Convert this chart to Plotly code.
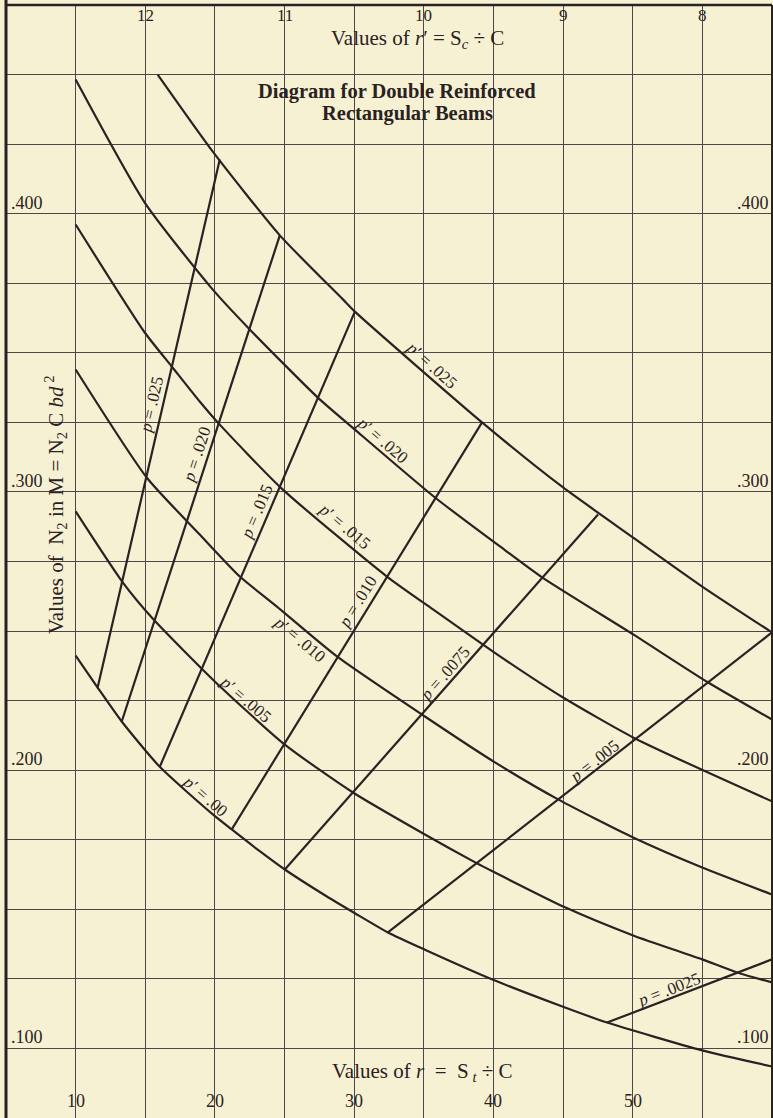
import plotly.graph_objects as go

# ---------------- data ----------------
# bottom axis: r = St / C ; top axis: r' = Sc / C ; vertical: N2
r_tick_vals = [10, 20, 30, 40, 50]
r_prime_labels = ["12", "11", "10", "9", "8"]
r_prime_at_r = [15, 25, 35, 45, 55]
n2_tick_vals = [0.100, 0.200, 0.300, 0.400]
n2_tick_text = [".100", ".200", ".300", ".400"]

# curves of constant p'
pp000_r = [10.0, 11.58, 13.31, 16.04, 19.85, 21.21, 23.22, 25.02, 28.04, 30.05, 32.42, 35.08, 40.11, 45.14, 48.16, 54.99, 60.0]
pp000_n = [0.2412, 0.2297, 0.2175, 0.2012, 0.1841, 0.1787, 0.1709, 0.1643, 0.1546, 0.1486, 0.1417, 0.1355, 0.1244, 0.1147, 0.1093, 0.0993, 0.0935]

pp005_r = [10.0, 13.38, 15.53, 19.99, 25.02, 29.91, 35.08, 38.82, 40.11, 45.14, 50.03, 54.99, 57.50, 60.0]
pp005_n = [0.2930, 0.2675, 0.2545, 0.2319, 0.2092, 0.1920, 0.1769, 0.1665, 0.1632, 0.1507, 0.1406, 0.1320, 0.1273, 0.1237]

pp010_r = [10.0, 15.10, 18.91, 21.79, 24.45, 28.76, 35.08, 40.11, 44.64, 50.03, 54.99, 60.0]
pp010_n = [0.3440, 0.3052, 0.2847, 0.2696, 0.2588, 0.2409, 0.2193, 0.2028, 0.1895, 0.1758, 0.1650, 0.1553]

pp015_r = [10.0, 14.96, 16.90, 18.91, 20.20, 24.80, 32.35, 35.66, 40.47, 45.00, 50.17, 60.0]
pp015_n = [0.3961, 0.3573, 0.3451, 0.3325, 0.3250, 0.3012, 0.2696, 0.2578, 0.2409, 0.2261, 0.2114, 0.1888]

pp020_r = [10.0, 14.96, 19.85, 22.50, 27.39, 30.05, 35.80, 40.47, 43.49, 50.03, 55.42, 60.0]
pp020_n = [0.4482, 0.4040, 0.3727, 0.3584, 0.3339, 0.3224, 0.2980, 0.2804, 0.2693, 0.2488, 0.2315, 0.2182]

pp025_r = [15.89, 19.85, 24.66, 29.19, 30.05, 39.18, 45.00, 50.03, 54.99, 60.0]
pp025_n = [0.4500, 0.4223, 0.3922, 0.3692, 0.3648, 0.3250, 0.3016, 0.2836, 0.2660, 0.2495]

pprime_labels = [".00", ".005", ".010", ".015", ".020", ".025"]

# lines of constant p (from p'=.00 curve up to p'=.025 curve / chart edge)
p_labels = [".025", ".020", ".015", ".010", ".0075", ".005", ".0025"]
p_bottom_r = [11.58, 13.31, 16.04, 21.21, 25.02, 32.42, 48.16]
p_bottom_n = [0.2297, 0.2175, 0.2012, 0.1787, 0.1643, 0.1417, 0.1093]
p_top_r = [20.35, 24.66, 30.05, 39.18, 47.51, 60.0, 60.0]
p_top_n = [0.4195, 0.3922, 0.3648, 0.3250, 0.2919, 0.2495, 0.1320]

# ---------------- styling / placement ----------------
W, H = 773, 1118
BG = "#f7f1d4"
INK = "#2a2222"
GRID = "#4f4747"
FONT = "Liberation Serif"

pprime_label_pos = [  # (r, N2, angle) for labels of p' curves
    (19.34, 0.1906, 41),
    (22.22, 0.2254, 41),
    (26.10, 0.2470, 40),
    (29.33, 0.2876, 40),
    (32.06, 0.3185, 41),
    (35.58, 0.3454, 42),
]
p_label_pos = [
    (15.46, 0.3314, -77),
    (18.70, 0.3135, -72),
    (23.01, 0.2930, -67),
    (30.27, 0.2606, -58),
    (36.52, 0.2348, -48.6),
    (47.23, 0.2031, -38),
    (52.62, 0.1212, -21),
]

fig = go.Figure()

curve_r = [pp000_r, pp005_r, pp010_r, pp015_r, pp020_r, pp025_r]
curve_n = [pp000_n, pp005_n, pp010_n, pp015_n, pp020_n, pp025_n]
for lab, xs, ys in zip(pprime_labels, curve_r, curve_n):
    fig.add_trace(go.Scatter(x=xs, y=ys, mode="lines", name="p' = " + lab,
                             line=dict(color=INK, width=2.2, shape="spline", smoothing=0.6),
                             hoverinfo="skip", showlegend=False))

for lab, x0, y0, x1, y1 in zip(p_labels, p_bottom_r, p_bottom_n, p_top_r, p_top_n):
    fig.add_trace(go.Scatter(x=[x0, x1], y=[y0, y1], mode="lines", name="p = " + lab,
                             line=dict(color=INK, width=2.2),
                             hoverinfo="skip", showlegend=False))

LBL = 17
ann = []
for lab, (x, y, a) in zip(pprime_labels, pprime_label_pos):
    ann.append(dict(x=x, y=y, xref="x", yref="y", text="<i>p</i>′ = " + lab,
                    textangle=a, showarrow=False, font=dict(family=FONT, size=LBL, color=INK)))
for lab, (x, y, a) in zip(p_labels, p_label_pos):
    ann.append(dict(x=x, y=y, xref="x", yref="y", text="<i>p</i> = " + lab,
                    textangle=a, showarrow=False, font=dict(family=FONT, size=LBL, color=INK)))

# tick labels (drawn inside the grid like the original)
TK = 18
for v in r_tick_vals:
    ann.append(dict(x=v, y=0.0810, xref="x", yref="y", text=str(v), showarrow=False,
                    font=dict(family=FONT, size=TK, color=INK)))
for lab, v in zip(r_prime_labels, r_prime_at_r):
    ann.append(dict(x=v, y=0.4712, xref="x", yref="y", text=lab, showarrow=False,
                    font=dict(family=FONT, size=17, color=INK)))
for v, t in zip(n2_tick_vals, n2_tick_text):
    ann.append(dict(x=5, y=v, xref="x", yref="y", text=t, showarrow=False,
                    xanchor="left", yanchor="bottom", xshift=3, yshift=-1,
                    font=dict(family=FONT, size=TK, color=INK)))
    ann.append(dict(x=60, y=v, xref="x", yref="y", text=t, showarrow=False,
                    xanchor="right", yanchor="bottom", xshift=-1, yshift=-1,
                    font=dict(family=FONT, size=TK, color=INK)))

# axis titles and diagram title
TT = 21
ann.append(dict(x=34.58, y=0.4629, xref="x", yref="y", showarrow=False,
                text="Values of <i>r</i>′ = S<sub><i>c</i></sub> ÷ C",
                font=dict(family=FONT, size=TT, color=INK)))
ann.append(dict(x=34.94, y=0.0914, xref="x", yref="y", showarrow=False,
                text="Values of <i>r</i>  =  S<sub> <i>t</i></sub> ÷ C",
                font=dict(family=FONT, size=TT, color=INK)))
ann.append(dict(x=8.56, y=0.2955, xref="x", yref="y", showarrow=False, textangle=-90,
                text="Values of  N<sub>2</sub> in M = N<sub>2</sub> C <i>bd</i><sup> 2</sup>",
                font=dict(family=FONT, size=TT, color=INK)))
ann.append(dict(x=33.07, y=0.4439, xref="x", yref="y", showarrow=False,
                text="<b>Diagram for Double Reinforced</b>",
                font=dict(family=FONT, size=20.5, color=INK)))
ann.append(dict(x=33.86, y=0.4360, xref="x", yref="y", showarrow=False,
                text="<b>Rectangular Beams</b>",
                font=dict(family=FONT, size=20.5, color=INK)))

shapes = [
    dict(type="line", xref="x domain", yref="y domain", x0=0, x1=0, y0=0, y1=1.005,
         line=dict(color=INK, width=3)),
    dict(type="line", xref="x domain", yref="y domain", x0=0, x1=1, y0=1, y1=1,
         line=dict(color=INK, width=2.5)),
    dict(type="line", xref="x domain", yref="y domain", x0=1, x1=1, y0=0, y1=1,
         line=dict(color=INK, width=2)),
]

fig.update_layout(
    width=W, height=H,
    margin=dict(l=6, r=1, t=5, b=0, pad=0),
    paper_bgcolor=BG, plot_bgcolor=BG,
    annotations=ann, shapes=shapes, showlegend=False,
    xaxis=dict(range=[5, 60], tick0=0, dtick=5, showgrid=True, gridcolor=GRID, gridwidth=1.4,
               zeroline=False, showticklabels=False, ticks="", showline=False, fixedrange=True),
    yaxis=dict(range=[0.075, 0.475], tick0=0, dtick=0.025, showgrid=True, gridcolor=GRID,
               gridwidth=1.4, zeroline=False, showticklabels=False, ticks="", showline=False,
               fixedrange=True),
)

fig.write_html(
    "out.html",
    config={"displayModeBar": False},
    post_script="document.body.style.margin='0';document.body.style.overflow='hidden';",
)
